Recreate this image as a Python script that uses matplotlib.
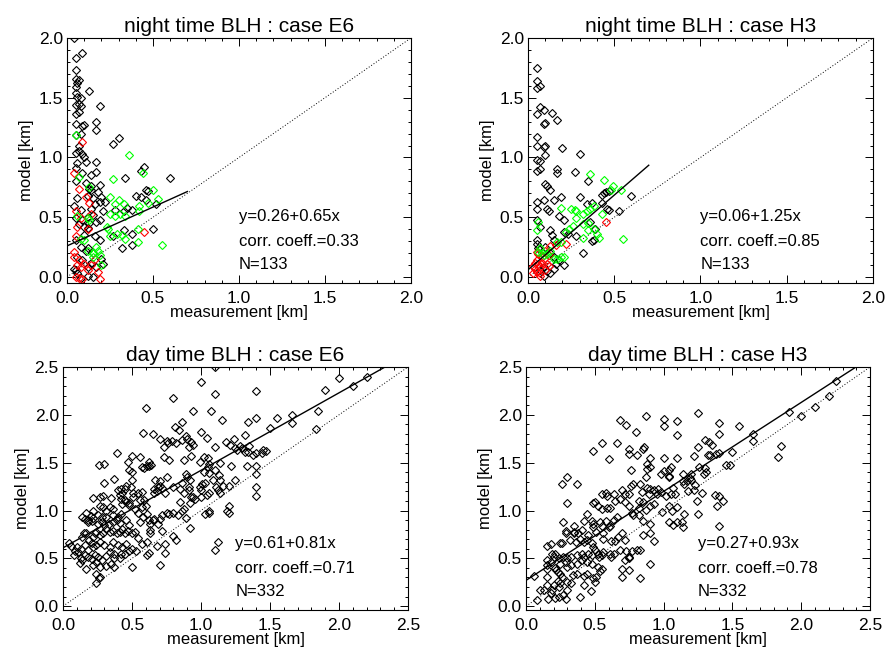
import numpy as np
import matplotlib
matplotlib.use("Agg")
import matplotlib.pyplot as plt
from matplotlib.ticker import MultipleLocator

plt.rcParams["font.family"] = ["Liberation Sans", "DejaVu Sans"]

# ---- night time, case E6 ----
night_e6_black = [
    (0.04, 2.00), (0.05, 1.83), (0.09, 1.87), (0.05, 1.73), (0.05, 1.66), (0.07, 1.65),
    (0.05, 1.59), (0.06, 1.62), (0.05, 1.54), (0.06, 1.51), (0.08, 1.50), (0.13, 1.56),
    (0.05, 1.44), (0.07, 1.45), (0.08, 1.43), (0.19, 1.43), (0.05, 1.36), (0.07, 1.38),
    (0.17, 1.30), (0.17, 1.23), (0.09, 1.26), (0.10, 1.27), (0.05, 1.28), (0.05, 1.19),
    (0.08, 1.20), (0.27, 1.11), (0.30, 1.16), (0.07, 1.10), (0.05, 1.04), (0.07, 1.05),
    (0.09, 1.03), (0.10, 1.00), (0.11, 0.96), (0.17, 0.96), (0.06, 0.95), (0.05, 0.91),
    (0.09, 0.87), (0.17, 0.88), (0.14, 0.85), (0.34, 0.83), (0.43, 0.89), (0.45, 0.92),
    (0.60, 0.83), (0.05, 0.80), (0.11, 0.79), (0.19, 0.77), (0.13, 0.74), (0.14, 0.73),
    (0.18, 0.71), (0.14, 0.76), (0.12, 0.68), (0.06, 0.66), (0.40, 0.68), (0.43, 0.67),
    (0.46, 0.73), (0.47, 0.72), (0.46, 0.64), (0.52, 0.61), (0.19, 0.63), (0.22, 0.63),
    (0.16, 0.61), (0.15, 0.66), (0.20, 0.67), (0.04, 0.59), (0.08, 0.56), (0.14, 0.57),
    (0.28, 0.56), (0.33, 0.55), (0.38, 0.56), (0.35, 0.58), (0.21, 0.55), (0.05, 0.49),
    (0.09, 0.48), (0.12, 0.50), (0.19, 0.48), (0.15, 0.52), (0.17, 0.46), (0.10, 0.42),
    (0.12, 0.41), (0.13, 0.45), (0.07, 0.44), (0.33, 0.39), (0.38, 0.36), (0.50, 0.40),
    (0.27, 0.34), (0.19, 0.31), (0.16, 0.34), (0.05, 0.31), (0.10, 0.35), (0.32, 0.24),
    (0.38, 0.27), (0.08, 0.25), (0.11, 0.22), (0.12, 0.24), (0.15, 0.20), (0.06, 0.17),
    (0.09, 0.14), (0.14, 0.12), (0.20, 0.15), (0.21, 0.11), (0.12, 0.08), (0.17, 0.08),
    (0.04, 0.07), (0.05, 0.06), (0.12, 0.01), (0.06, 0.03), (0.08, -0.01), (0.15, 0.00),
]
night_e6_red = [
    (0.09, 1.13), (0.04, 0.87), (0.07, 0.74), (0.11, 0.67), (0.13, 0.62), (0.05, 0.55),
    (0.08, 0.49), (0.06, 0.42), (0.12, 0.40), (0.05, 0.34), (0.45, 0.38), (0.07, 0.14),
    (0.10, 0.11), (0.06, 0.10), (0.14, 0.10), (0.12, 0.06), (0.18, 0.04), (0.05, 0.00),
    (0.07, -0.01), (0.09, -0.02), (0.19, -0.02), (0.04, 0.21), (0.14, 0.53), (0.04, 0.17),
    (0.08, 0.08), (0.16, 0.15),
]
night_e6_green = [
    (0.05, 1.19), (0.36, 1.02), (0.07, 0.84), (0.27, 0.82), (0.44, 0.87), (0.50, 0.73),
    (0.53, 0.65), (0.25, 0.67), (0.28, 0.61), (0.30, 0.64), (0.33, 0.61), (0.25, 0.53),
    (0.28, 0.51), (0.31, 0.53), (0.34, 0.51), (0.42, 0.55), (0.42, 0.59), (0.47, 0.62),
    (0.12, 0.49), (0.13, 0.48), (0.23, 0.42), (0.24, 0.40), (0.25, 0.34), (0.29, 0.36),
    (0.32, 0.35), (0.34, 0.32), (0.41, 0.40), (0.41, 0.29), (0.55, 0.27), (0.08, 0.32),
    (0.10, 0.31), (0.12, 0.22), (0.15, 0.20), (0.17, 0.25), (0.19, 0.18), (0.20, 0.10),
    (0.06, 0.51), (0.15, 0.17), (0.13, 0.75), (0.18, 0.22),
]

# ---- night time, case H3 ----
night_h3_black = [
    (0.05, 1.75), (0.05, 1.64), (0.05, 1.58), (0.07, 1.60), (0.07, 1.42), (0.09, 1.40),
    (0.05, 1.36), (0.14, 1.37), (0.17, 1.31), (0.10, 1.29), (0.09, 1.28), (0.05, 1.17),
    (0.05, 1.10), (0.09, 1.09), (0.10, 1.10), (0.20, 1.08), (0.10, 1.02), (0.30, 1.03),
    (0.05, 0.98), (0.07, 0.97), (0.07, 0.90), (0.05, 0.89), (0.17, 0.90), (0.17, 0.87),
    (0.27, 0.88), (0.10, 0.78), (0.11, 0.76), (0.35, 0.80), (0.13, 0.73), (0.15, 0.64),
    (0.19, 0.67), (0.05, 0.63), (0.09, 0.64), (0.05, 0.57), (0.11, 0.57), (0.12, 0.55),
    (0.18, 0.51), (0.21, 0.48), (0.30, 0.67), (0.34, 0.61), (0.37, 0.62), (0.43, 0.62),
    (0.43, 0.69), (0.44, 0.70), (0.45, 0.71), (0.47, 0.72), (0.46, 0.57), (0.47, 0.56),
    (0.53, 0.55), (0.60, 0.68), (0.05, 0.48), (0.07, 0.42), (0.13, 0.39), (0.14, 0.35),
    (0.15, 0.31), (0.21, 0.38), (0.23, 0.36), (0.28, 0.34), (0.36, 0.46), (0.39, 0.40),
    (0.38, 0.31), (0.37, 0.30), (0.32, 0.20), (0.05, 0.31), (0.05, 0.28), (0.06, 0.24),
    (0.10, 0.25), (0.13, 0.20), (0.15, 0.17), (0.21, 0.10), (0.09, 0.08), (0.11, 0.05),
    (0.07, 0.06), (0.15, 0.07), (0.16, 0.11), (0.13, 0.03), (0.09, 0.01), (0.18, 0.14),
]
night_h3_red = [
    (0.05, 0.14), (0.06, 0.11), (0.07, 0.08), (0.04, 0.07), (0.08, 0.17), (0.05, 0.04),
    (0.07, 0.03), (0.10, 0.06), (0.03, 0.03), (0.11, 0.11), (0.04, 0.12), (0.06, 0.19),
    (0.08, 0.12), (0.03, 0.09), (0.09, 0.15), (0.13, 0.26), (0.16, 0.27), (0.22, 0.28),
    (0.45, 0.46), (0.12, 0.18), (0.10, 0.22), (0.05, 0.21), (0.07, 0.01), (0.12, 0.09),
]
night_h3_green = [
    (0.06, 0.46), (0.05, 0.39), (0.06, 0.21), (0.08, 0.20), (0.09, 0.18), (0.11, 0.19),
    (0.15, 0.15), (0.17, 0.15), (0.19, 0.17), (0.21, 0.17), (0.17, 0.29), (0.19, 0.29),
    (0.22, 0.38), (0.24, 0.40), (0.26, 0.43), (0.28, 0.49), (0.25, 0.57), (0.27, 0.56),
    (0.28, 0.55), (0.19, 0.58), (0.32, 0.53), (0.34, 0.55), (0.36, 0.57), (0.38, 0.59),
    (0.36, 0.86), (0.44, 0.81), (0.48, 0.73), (0.49, 0.76), (0.54, 0.73), (0.43, 0.53),
    (0.32, 0.33), (0.35, 0.39), (0.38, 0.40), (0.40, 0.36), (0.41, 0.33), (0.55, 0.32),
    (0.32, 0.44), (0.35, 0.45), (0.13, 0.22), (0.07, 0.24),
]

# ---- day time, case E6 ----
day_e6 = [
    (1.10, 2.50), (1.00, 2.34), (0.80, 2.18), (1.10, 2.22), (1.40, 2.25), (0.60, 2.07),
    (2.00, 2.39), (2.20, 2.40), (1.90, 2.26), (2.10, 2.30), (1.85, 2.04), (0.94, 2.04),
    (1.07, 2.04), (1.15, 1.95), (1.40, 1.97), (1.55, 1.97), (1.66, 2.00), (1.66, 1.91),
    (1.50, 1.86), (1.83, 1.85), (1.34, 1.92), (0.86, 1.93), (0.81, 1.87), (0.84, 1.84),
    (0.58, 1.81), (0.65, 1.80), (0.70, 1.75), (0.73, 1.66), (0.75, 1.73), (0.76, 1.71),
    (0.79, 1.73), (0.82, 1.71), (0.86, 1.74), (0.89, 1.78), (0.90, 1.75), (0.93, 1.72),
    (0.94, 1.69), (0.91, 1.66), (1.00, 1.82), (1.04, 1.76), (1.10, 1.66), (1.18, 1.72),
    (1.24, 1.75), (1.21, 1.68), (1.32, 1.79), (1.35, 1.67), (1.28, 1.67), (1.30, 1.65),
    (1.32, 1.61), (1.34, 1.61), (1.38, 1.58), (1.40, 1.60), (1.44, 1.60), (1.45, 1.63),
    (1.47, 1.62), (1.25, 1.65), (1.26, 1.63), (0.73, 1.56), (0.77, 1.53), (0.88, 1.53),
    (0.93, 1.57), (0.99, 1.51), (1.02, 1.56), (1.05, 1.55), (1.06, 1.49), (1.14, 1.50),
    (1.22, 1.47), (1.33, 1.47), (1.40, 1.47), (1.40, 1.38), (1.40, 1.25), (1.40, 1.15),
    (1.10, 1.42), (1.02, 1.40), (1.05, 1.45), (0.67, 1.32), (0.70, 1.31), (0.70, 1.26),
    (0.69, 1.25), (0.66, 1.22), (0.68, 1.20), (0.66, 1.18), (0.75, 1.35), (0.72, 1.24),
    (0.74, 1.18), (0.80, 1.25), (0.85, 1.23), (0.86, 1.29), (0.89, 1.38), (0.90, 1.35),
    (0.92, 1.32), (0.91, 1.25), (0.91, 1.21), (0.88, 1.18), (0.93, 1.14), (0.85, 1.09),
    (0.99, 1.25), (1.00, 1.21), (1.01, 1.28), (1.06, 1.39), (1.09, 1.32), (1.03, 1.29),
    (1.13, 1.37), (1.14, 1.32), (1.16, 1.26), (1.20, 1.26), (1.11, 1.25), (1.12, 1.21),
    (1.14, 1.18), (1.25, 1.32), (1.06, 1.18), (1.04, 1.16), (1.00, 1.14), (0.96, 1.12),
    (0.94, 1.14), (1.20, 1.05), (1.19, 0.99), (1.20, 0.97), (1.06, 1.00), (1.06, 0.97),
    (1.03, 0.96), (0.92, 1.08), (0.88, 1.02), (0.86, 1.00), (0.89, 0.92), (0.83, 0.95),
    (0.80, 0.97), (0.77, 0.96), (0.75, 0.97), (0.72, 0.95), (0.70, 0.91), (0.66, 0.91),
    (0.69, 0.86), (0.63, 0.80), (0.72, 0.79), (0.92, 0.82), (0.80, 0.73), (0.82, 0.69),
    (0.74, 0.65), (0.68, 0.63), (1.12, 0.67), (1.10, 0.59), (0.74, 0.56), (0.70, 0.43),
    (0.61, 0.53),
    (0.39, 1.60), (0.50, 1.57), (0.56, 1.56), (0.47, 1.51), (0.26, 1.48), (0.30, 1.49),
    (0.48, 1.42), (0.50, 1.40), (0.57, 1.46), (0.59, 1.44), (0.61, 1.47), (0.62, 1.47),
    (0.64, 1.48), (0.62, 1.51), (0.37, 1.33), (0.30, 1.29), (0.50, 1.32), (0.40, 1.21),
    (0.42, 1.23), (0.45, 1.23), (0.46, 1.26), (0.49, 1.25), (0.22, 1.13), (0.27, 1.14),
    (0.29, 1.15), (0.35, 1.13), (0.41, 1.16), (0.43, 1.18), (0.51, 1.18), (0.54, 1.18),
    (0.51, 1.14), (0.57, 1.19), (0.42, 1.12), (0.45, 1.11), (0.46, 1.09), (0.48, 1.08),
    (0.56, 1.11), (0.59, 1.11), (0.27, 1.05), (0.22, 1.00), (0.17, 0.97), (0.20, 0.94),
    (0.14, 0.93), (0.16, 0.91), (0.18, 0.88), (0.21, 0.89), (0.29, 1.04), (0.31, 1.00),
    (0.34, 1.04), (0.36, 1.02), (0.25, 0.95), (0.28, 0.93), (0.31, 0.93), (0.36, 0.95),
    (0.40, 0.93), (0.42, 0.96), (0.43, 1.07), (0.48, 1.06), (0.52, 1.02), (0.57, 1.04),
    (0.60, 1.05), (0.54, 0.97), (0.58, 0.93), (0.61, 0.96), (0.25, 0.86), (0.28, 0.88),
    (0.30, 0.85), (0.33, 0.86), (0.36, 0.88), (0.39, 0.90), (0.41, 0.87), (0.46, 0.90),
    (0.48, 0.85), (0.56, 0.88), (0.62, 0.90), (0.63, 0.86), (0.65, 0.90), (0.06, 0.63),
    (0.14, 0.72), (0.17, 0.76), (0.19, 0.69), (0.22, 0.72), (0.24, 0.78), (0.27, 0.74),
    (0.29, 0.76), (0.31, 0.81), (0.34, 0.78), (0.36, 0.79), (0.39, 0.76), (0.41, 0.78),
    (0.43, 0.81), (0.45, 0.76), (0.47, 0.79), (0.50, 0.76), (0.52, 0.78), (0.54, 0.71),
    (0.57, 0.65), (0.61, 0.67), (0.63, 0.76), (0.13, 0.60), (0.16, 0.64), (0.18, 0.59),
    (0.22, 0.62), (0.24, 0.64), (0.27, 0.67), (0.30, 0.64), (0.34, 0.62), (0.36, 0.67),
    (0.40, 0.64), (0.43, 0.62), (0.46, 0.65), (0.50, 0.60), (0.53, 0.58), (0.62, 0.56),
    (0.08, 0.53), (0.11, 0.57), (0.13, 0.50), (0.14, 0.48), (0.16, 0.53), (0.18, 0.51),
    (0.21, 0.49), (0.23, 0.54), (0.25, 0.51), (0.28, 0.48), (0.31, 0.52), (0.34, 0.57),
    (0.37, 0.55), (0.41, 0.50), (0.42, 0.55), (0.50, 0.41), (0.22, 0.43), (0.24, 0.46),
    (0.27, 0.41), (0.35, 0.44), (0.37, 0.50), (0.12, 0.45), (0.17, 0.39), (0.24, 0.34),
    (0.27, 0.31), (0.24, 0.24), (0.26, 0.29), (0.09, 0.58), (0.15, 0.76), (0.18, 0.90),
    (0.22, 0.92), (0.23, 0.76), (0.21, 0.66), (0.31, 0.42), (0.37, 0.41), (0.45, 0.55),
    (0.48, 0.58), (0.04, 0.66), (0.10, 0.62),
]

# ---- day time, case H3 ----
day_h3 = [
    (2.25, 2.35), (2.20, 2.20), (2.10, 2.08), (2.00, 1.99), (1.91, 2.03), (1.85, 1.67),
    (1.83, 1.56), (1.65, 1.80), (1.65, 1.73), (1.55, 1.88), (1.50, 1.61), (1.45, 1.48),
    (1.48, 1.48), (1.40, 1.91), (1.40, 1.80), (1.38, 1.59), (1.40, 1.60), (1.32, 1.58),
    (1.34, 1.58), (1.30, 1.74), (1.33, 1.72), (1.35, 1.69), (1.25, 2.02), (1.25, 1.66),
    (1.30, 1.44), (1.31, 1.40), (1.29, 1.38), (1.26, 1.45), (1.22, 1.57), (1.37, 1.16),
    (1.40, 1.15), (1.43, 1.10), (1.39, 1.05), (1.40, 0.84), (1.24, 1.10), (1.25, 0.96),
    (1.28, 1.18), (1.20, 1.38), (1.19, 1.34), (1.20, 1.32), (1.17, 1.31), (1.15, 1.28),
    (1.23, 1.27), (1.22, 1.21), (1.18, 1.20), (1.14, 1.38), (1.14, 1.31), (1.10, 1.94),
    (1.10, 1.79), (1.10, 1.55), (1.14, 0.83), (1.15, 0.96), (1.13, 0.88), (1.05, 1.46),
    (1.04, 1.42), (1.04, 1.36), (1.04, 1.35), (1.07, 1.24), (1.08, 1.17), (1.05, 1.17),
    (1.02, 1.15), (1.04, 1.05), (1.10, 1.04), (1.06, 1.00), (1.04, 0.88), (1.07, 0.85),
    (1.10, 0.88), (0.99, 0.98), (1.00, 1.96), (1.00, 1.88), (1.00, 1.55), (1.00, 1.41),
    (0.98, 1.38), (0.96, 1.22), (0.95, 1.17), (0.98, 1.19), (0.93, 1.21), (0.87, 1.99),
    (0.85, 1.64), (0.86, 1.66), (0.90, 1.55), (0.88, 1.49), (0.90, 1.45), (0.88, 1.43),
    (0.87, 1.35), (0.88, 1.24), (0.90, 1.22), (0.89, 1.17), (0.93, 1.07), (0.90, 1.05),
    (0.87, 1.01), (0.85, 0.89), (0.90, 0.86), (0.85, 0.74), (0.90, 0.77), (0.93, 0.68),
    (0.73, 1.89), (0.68, 1.95), (0.80, 1.82), (0.66, 1.71), (0.55, 1.71), (0.49, 1.62),
    (0.60, 1.54), (0.75, 1.64), (0.75, 1.59), (0.81, 1.58), (0.76, 1.42), (0.78, 1.28),
    (0.76, 1.26), (0.75, 1.17), (0.72, 1.17), (0.70, 1.21), (0.83, 1.28), (0.84, 1.19),
    (0.68, 1.12), (0.72, 1.09), (0.75, 1.05), (0.82, 1.10), (0.85, 1.09), (0.82, 1.03),
    (0.77, 0.97), (0.78, 0.95), (0.82, 0.95), (0.70, 0.76), (0.72, 0.69), (0.68, 0.59),
    (0.73, 0.58), (0.77, 0.58), (0.81, 0.59), (0.83, 0.59), (0.75, 0.51), (0.75, 0.50),
    (0.72, 0.48), (0.70, 0.39), (0.75, 0.38), (0.70, 0.31), (0.83, 0.29), (0.90, 0.44),
    (0.64, 0.55), (0.61, 0.55), (0.62, 0.51), (0.62, 0.68), (0.65, 0.68), (0.67, 0.72),
    (0.60, 0.83), (0.58, 0.89), (0.61, 0.84), (0.64, 0.90), (0.66, 0.93), (0.61, 1.03),
    (0.59, 1.03), (0.55, 1.02), (0.50, 1.09), (0.49, 1.08), (0.52, 1.05), (0.55, 1.17),
    (0.58, 1.18), (0.59, 1.15), (0.64, 1.17), (0.65, 1.10), (0.44, 0.96), (0.48, 0.89),
    (0.49, 0.86), (0.42, 0.89), (0.54, 0.88), (0.55, 0.84), (0.56, 0.76), (0.56, 0.70),
    (0.49, 0.83), (0.51, 0.78), (0.45, 0.74), (0.44, 0.69), (0.48, 0.66), (0.49, 0.62),
    (0.50, 0.59), (0.52, 0.55), (0.53, 0.51), (0.55, 0.53), (0.56, 0.57), (0.41, 0.80),
    (0.38, 0.77), (0.32, 0.69), (0.36, 0.67), (0.39, 0.70), (0.42, 0.67), (0.26, 1.28),
    (0.30, 1.35), (0.30, 1.08), (0.37, 1.28), (0.27, 0.88), (0.29, 0.79), (0.29, 0.76),
    (0.35, 0.84), (0.35, 0.78), (0.35, 0.76), (0.26, 0.66), (0.25, 0.66), (0.15, 0.63),
    (0.18, 0.65), (0.19, 0.55), (0.21, 0.55), (0.20, 0.51), (0.24, 0.50), (0.27, 0.51),
    (0.30, 0.50), (0.33, 0.51), (0.37, 0.53), (0.41, 0.55), (0.42, 0.51), (0.45, 0.55),
    (0.48, 0.53), (0.15, 0.43), (0.15, 0.39), (0.21, 0.40), (0.25, 0.44), (0.29, 0.46),
    (0.30, 0.41), (0.33, 0.43), (0.37, 0.44), (0.41, 0.48), (0.44, 0.46), (0.48, 0.44),
    (0.52, 0.41), (0.22, 0.38), (0.23, 0.36), (0.25, 0.34), (0.26, 0.30), (0.23, 0.26),
    (0.25, 0.24), (0.30, 0.25), (0.34, 0.33), (0.37, 0.34), (0.42, 0.32), (0.44, 0.34),
    (0.49, 0.29), (0.51, 0.31), (0.54, 0.37), (0.55, 0.39), (0.06, 0.32), (0.15, 0.31),
    (0.15, 0.22), (0.10, 0.17), (0.08, 0.06), (0.16, 0.08), (0.18, 0.14), (0.21, 0.09),
    (0.24, 0.10), (0.29, 0.07), (0.27, 0.12), (0.30, 0.17), (0.33, 0.24), (0.39, 0.10),
    (0.42, 0.22), (0.47, 0.16), (0.50, 0.25), (0.13, 0.17), (0.19, 0.17), (0.20, 0.22),
    (0.24, 0.20), (0.15, 0.48), (0.18, 0.46),
]

# fit parameters: intercept, slope, correlation, N
fits = {
    "night_e6": (0.26, 0.65, 0.33, 133),
    "night_h3": (0.06, 1.25, 0.85, 133),
    "day_e6": (0.61, 0.81, 0.71, 332),
    "day_h3": (0.27, 0.93, 0.78, 332),
}
night_fit_xmax = 0.7

TICK_FS = 12.5
TXT_FS = 12
TITLE_FS = 15


def style_axes(ax, xmax, ylim):
    ax.set_xlim(0, xmax)
    ax.set_ylim(*ylim)
    ax.xaxis.set_major_locator(MultipleLocator(0.5))
    ax.yaxis.set_major_locator(MultipleLocator(0.5))
    ax.xaxis.set_minor_locator(MultipleLocator(0.1))
    ax.yaxis.set_minor_locator(MultipleLocator(0.1))
    ax.xaxis.set_major_formatter(plt.FuncFormatter(lambda v, p: f"{v:.1f}"))
    ax.yaxis.set_major_formatter(plt.FuncFormatter(lambda v, p: f"{v:.1f}"))
    ax.tick_params(which="both", direction="in", top=True, right=True,
                   width=0.7, labelsize=TICK_FS)
    ax.tick_params(which="major", length=5.5)
    ax.tick_params(which="minor", length=2.5)
    ax.tick_params(axis="x", pad=6)
    ax.tick_params(axis="y", pad=3)
    for s in ax.spines.values():
        s.set_linewidth(0.8)
    ax.set_xlabel("measurement [km]", fontsize=TXT_FS, labelpad=-1)
    ax.set_ylabel("model [km]", fontsize=TXT_FS, labelpad=3)


def scatter(ax, pts, color):
    xs = [p[0] for p in pts]
    ys = [p[1] for p in pts]
    ax.plot(xs, ys, linestyle="none", marker="D", markersize=3.9,
            markerfacecolor="none", markeredgecolor=color, markeredgewidth=0.8,
            clip_on=True)


def annotate(ax, key):
    a, b, r, n = fits[key]
    ax.text(0.5, 0.272, f"y={a:.2f}+{b:.2f}x", transform=ax.transAxes,
            fontsize=TXT_FS, va="center", ha="left")
    ax.text(0.5, 0.170, f"corr. coeff.={r:.2f}", transform=ax.transAxes,
            fontsize=TXT_FS, va="center", ha="left")
    ax.text(0.5, 0.076, f"N={n}", transform=ax.transAxes,
            fontsize=TXT_FS, va="center", ha="left")


fig = plt.figure(figsize=(8.85, 6.52), dpi=100)

# axes boxes in figure fractions
ax1 = fig.add_axes([0.0757, 0.566, 0.3887, 0.3758])
ax2 = fig.add_axes([0.5966, 0.566, 0.3898, 0.3758])
ax3 = fig.add_axes([0.0712, 0.0644, 0.3898, 0.3727])
ax4 = fig.add_axes([0.5944, 0.0644, 0.3887, 0.3727])

night = [(ax1, "night_e6", "night time BLH : case E6",
          night_e6_black, night_e6_red, night_e6_green),
         (ax2, "night_h3", "night time BLH : case H3",
          night_h3_black, night_h3_red, night_h3_green)]

for ax, key, title, blk, red, grn in night:
    style_axes(ax, 2.0, (-0.05, 2.0))
    ax.plot([0, 2.0], [0, 2.0], color="black", linestyle=(0, (1, 2)), linewidth=0.7)
    scatter(ax, blk, "black")
    scatter(ax, red, "#ff0000")
    scatter(ax, grn, "#00ff00")
    a, b = fits[key][:2]
    xs = np.array([0.0, night_fit_xmax])
    ax.plot(xs, a + b * xs, color="black", linewidth=1.0)
    annotate(ax, key)
    ax.set_title(title, fontsize=TITLE_FS, pad=4)

day = [(ax3, "day_e6", "day time BLH : case E6", day_e6),
       (ax4, "day_h3", "day time BLH : case H3", day_h3)]

for ax, key, title, pts in day:
    style_axes(ax, 2.5, (-0.04, 2.5))
    ax.plot([0, 2.5], [0, 2.5], color="black", linestyle=(0, (1, 2)), linewidth=0.7)
    scatter(ax, pts, "black")
    a, b = fits[key][:2]
    xs = np.array([0.0, 2.5])
    ax.plot(xs, a + b * xs, color="black", linewidth=1.0)
    annotate(ax, key)
    ax.set_title(title, fontsize=TITLE_FS, pad=4)

fig.savefig("out.png", dpi=100)
